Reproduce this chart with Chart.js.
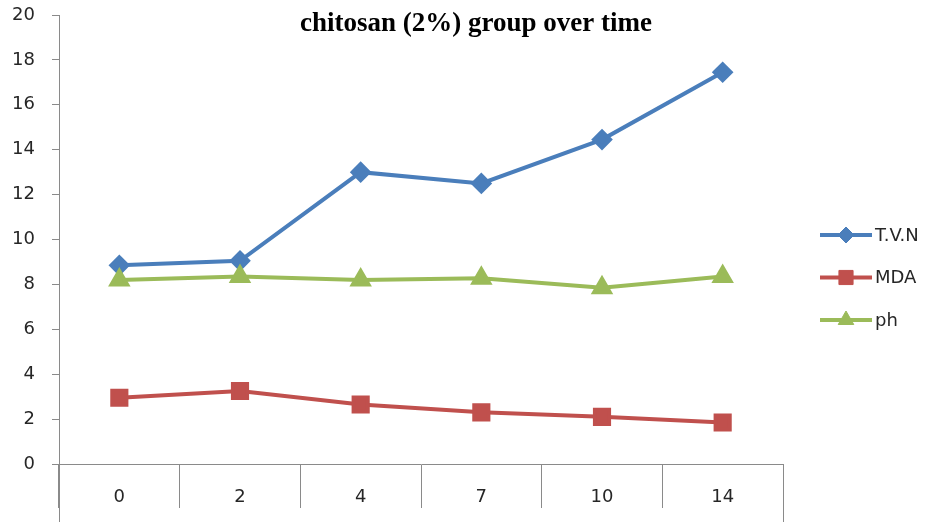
<!DOCTYPE html>
<html>
<head>
<meta charset="utf-8">
<script src="https://cdn.jsdelivr.net/npm/chart.js@4.4.0/dist/chart.umd.min.js"></script>
<style>
  body { margin: 0; background: #ffffff; }
  #wrap { width: 930px; height: 522px; }
</style>
</head>
<body>
<div id="wrap"><canvas id="chitosanChart" width="930" height="522"></canvas></div>
<script>
// storage days
const days = ['0', '2', '4', '7', '10', '14'];

// measured values per day
const tvnValues = [8.85, 9.05, 13.0, 12.5, 14.45, 17.45];
const mdaValues = [2.95, 3.25, 2.65, 2.3, 2.1, 1.85];
const phValues = [8.2, 8.35, 8.2, 8.27, 7.85, 8.35];

const seriesNames = ['T.V.N', 'MDA', 'ph'];
const yTicks = { min: 0, max: 20, step: 2 };

const axisGray = '#8a8a8a';
const textColor = '#262626';

// excel style: plot edges run down to the bottom, plus title and line legend
const extrasPlugin = {
    id: 'extras',
    afterDraw(chart) {
        const ctx = chart.ctx;
        const area = chart.chartArea;
        ctx.save();

        ctx.strokeStyle = axisGray;
        ctx.lineWidth = 1;
        ctx.beginPath();
        ctx.moveTo(Math.round(area.left) + 0.5, area.bottom);
        ctx.lineTo(Math.round(area.left) + 0.5, chart.height);
        ctx.moveTo(Math.round(area.right) + 0.5, area.bottom);
        ctx.lineTo(Math.round(area.right) + 0.5, chart.height);
        ctx.stroke();

        ctx.fillStyle = '#000000';
        ctx.font = 'bold 27px "Liberation Serif", "Times New Roman", serif';
        ctx.textAlign = 'center';
        ctx.textBaseline = 'middle';
        ctx.fillText('chitosan (2%) group over time', 476, 24);

        const legendX = 820;
        const legendTop = 235;
        const rowGap = 42.5;
        ctx.font = '18px "DejaVu Sans", sans-serif';
        ctx.textAlign = 'left';
        chart.data.datasets.forEach(function (ds, i) {
            const y = legendTop + i * rowGap;
            ctx.strokeStyle = ds.borderColor;
            ctx.lineWidth = ds.borderWidth;
            ctx.beginPath();
            ctx.moveTo(legendX, y);
            ctx.lineTo(legendX + 52, y);
            ctx.stroke();
            ctx.fillStyle = ds.pointBackgroundColor;
            ctx.strokeStyle = ds.pointBorderColor;
            ctx.lineWidth = 1;
            Chart.helpers.drawPoint(ctx, {
                pointStyle: ds.pointStyle,
                radius: ds.pointRadius,
                rotation: 0,
                borderWidth: 1
            }, legendX + 26, y);
            ctx.fillStyle = textColor;
            ctx.fillText(ds.label, legendX + 55, y + 1);
        });

        ctx.restore();
    }
};

function makeSeries(label, values, color, style, radius, order)
{
    return {
        label: label,
        data: values,
        borderColor: color,
        backgroundColor: color,
        pointBackgroundColor: color,
        pointBorderColor: color,
        pointStyle: style,
        pointRadius: radius,
        pointHoverRadius: radius,
        borderWidth: 4,
        tension: 0,
        order: order
    };
}

const ctx = document.getElementById('chitosanChart').getContext('2d');

const chitosanChart = new Chart(ctx, {
    type: 'line',
    data: {
        labels: days,
        datasets: [
            makeSeries(seriesNames[0], tvnValues, '#4a7ebb', 'rectRot', 8, 3),
            makeSeries(seriesNames[1], mdaValues, '#c0504d', 'rect', 10, 2),
            makeSeries(seriesNames[2], phValues, '#9bbb59', 'triangle', 9, 1)
        ]
    },
    options: {
        responsive: false,
        animation: false,
        layout: {
            autoPadding: false,
            padding: { top: 15, right: 147, bottom: 0, left: 0 }
        },
        plugins: {
            legend: { display: false },
            title: { display: false },
            tooltip: { enabled: false }
        },
        scales: {
            x: {
                offset: true,
                grid: {
                    offset: true,
                    drawOnChartArea: false,
                    drawTicks: true,
                    tickLength: 44,
                    color: axisGray
                },
                border: { display: true, color: axisGray },
                ticks: {
                    padding: -21,
                    color: textColor,
                    font: { family: 'DejaVu Sans', size: 18 }
                },
                afterFit: function (scale) {
                    scale.height = 58;
                    scale.paddingLeft = 0;
                    scale.paddingRight = 0;
                }
            },
            y: {
                min: yTicks.min,
                max: yTicks.max,
                grid: {
                    drawOnChartArea: false,
                    drawTicks: true,
                    tickLength: 7,
                    color: axisGray
                },
                border: { display: true, color: axisGray },
                ticks: {
                    stepSize: yTicks.step,
                    padding: 17,
                    color: textColor,
                    font: { family: 'DejaVu Sans', size: 18 }
                },
                afterFit: function (scale) {
                    scale.width = 59;
                    scale.paddingTop = 0;
                    scale.paddingBottom = 0;
                }
            }
        }
    },
    plugins: [extrasPlugin]
});
</script>
</body>
</html>
